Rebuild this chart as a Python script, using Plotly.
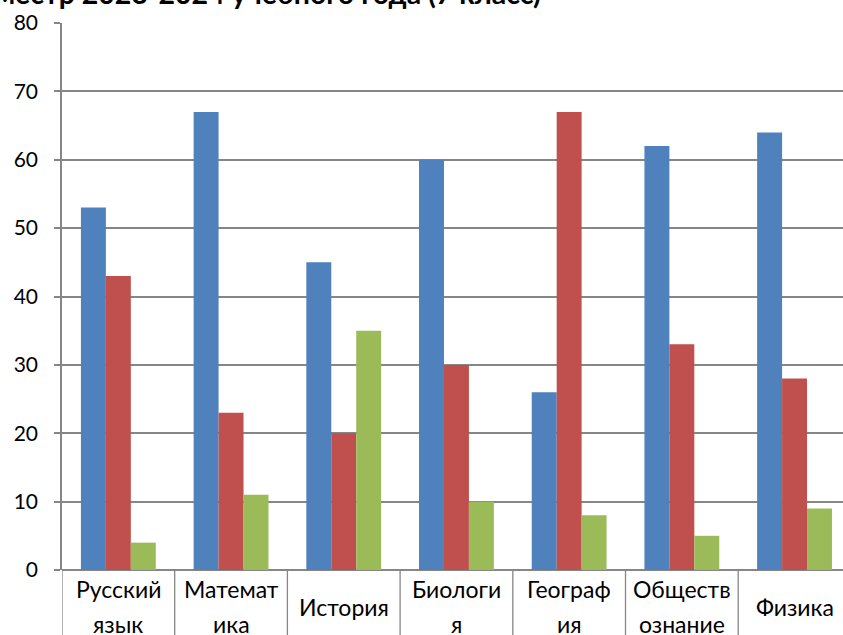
import plotly.graph_objects as go

categories = ["Русский язык", "Математика", "История", "Биология", "География", "Обществознание", "Физика"]
label_line1 = ["Русский", "Математ", "", "Биологи", "Географ", "Обществ", ""]
label_line2 = ["язык", "ика", "", "я", "ия", "ознание", ""]
label_single = ["", "", "История", "", "", "", "Физика"]
series_blue = [53, 67, 45, 60, 26, 62, 64]
series_red = [43, 23, 20, 30, 67, 33, 28]
series_green = [4, 11, 35, 10, 8, 5, 9]
title_text = "семестр 2023-2024 учебного года (7 класс)"

W, H = 843, 635
L, R, T, B = 62, 0, 23, 65
CAT_W = 112.7

fig = go.Figure()
for vals, col in [(series_blue, "#4F81BD"), (series_red, "#C0504D"), (series_green, "#9BBB59")]:
    fig.add_trace(go.Bar(x=list(range(len(categories))), y=vals, marker=dict(color=col, line=dict(width=0)),
                         showlegend=False))

shapes = []
for i in range(len(categories)):
    shapes.append(dict(type="line", xref="x", yref="paper", x0=i - 0.5, x1=i - 0.5,
                       y0=0, y1=-0.3, line=dict(color="#868686", width=1.3)))
fig.update_layout(shapes=shapes)

lab_font = dict(family="Lato", size=23, color="#000000")
ann = []
for i in range(len(categories)):
    if label_single[i]:
        ann.append(dict(x=i, xref="x", yref="paper", y=0, yanchor="middle", yshift=-37,
                        text=label_single[i], showarrow=False, font=lab_font))
    else:
        ann.append(dict(x=i, xref="x", yref="paper", y=0, yanchor="middle", yshift=-19,
                        text=label_line1[i], showarrow=False, font=lab_font))
        ann.append(dict(x=i, xref="x", yref="paper", y=0, yanchor="middle", yshift=-54,
                        text=label_line2[i], showarrow=False, font=lab_font))
ann.append(dict(x=(543 - L) / (W - L - R), xref="paper", xanchor="right", y=1, yref="paper",
                yanchor="bottom", yshift=11, text="<b>" + title_text + "</b>", showarrow=False,
                font=dict(family="Lato", size=28.5, color="#000000")))
fig.update_layout(annotations=ann)

fig.update_layout(
    width=W, height=H,
    margin=dict(l=L, r=R, t=T, b=B, pad=0),
    paper_bgcolor="white", plot_bgcolor="white",
    barmode="group", bargap=0.336, bargroupgap=0,
    xaxis=dict(range=[-0.5, -0.5 + (W - L - R) / CAT_W], showticklabels=False, showgrid=False,
               zeroline=False, showline=False, ticks=""),
    yaxis=dict(range=[0, 80], dtick=10, showgrid=True, gridcolor="#868686", gridwidth=1.5,
               zeroline=True, zerolinecolor="#868686", zerolinewidth=1.5,
               showline=True, linecolor="#868686", linewidth=1.5,
               ticks="outside", ticklen=6, tickcolor="#868686", tickwidth=1.5,
               tickfont=dict(family="Lato", size=21, color="#000000"), ticklabelstandoff=12),
)
fig.write_html("out.html", config={"displayModeBar": False},
               post_script="document.body.style.margin='0';document.body.style.overflow='hidden';")
